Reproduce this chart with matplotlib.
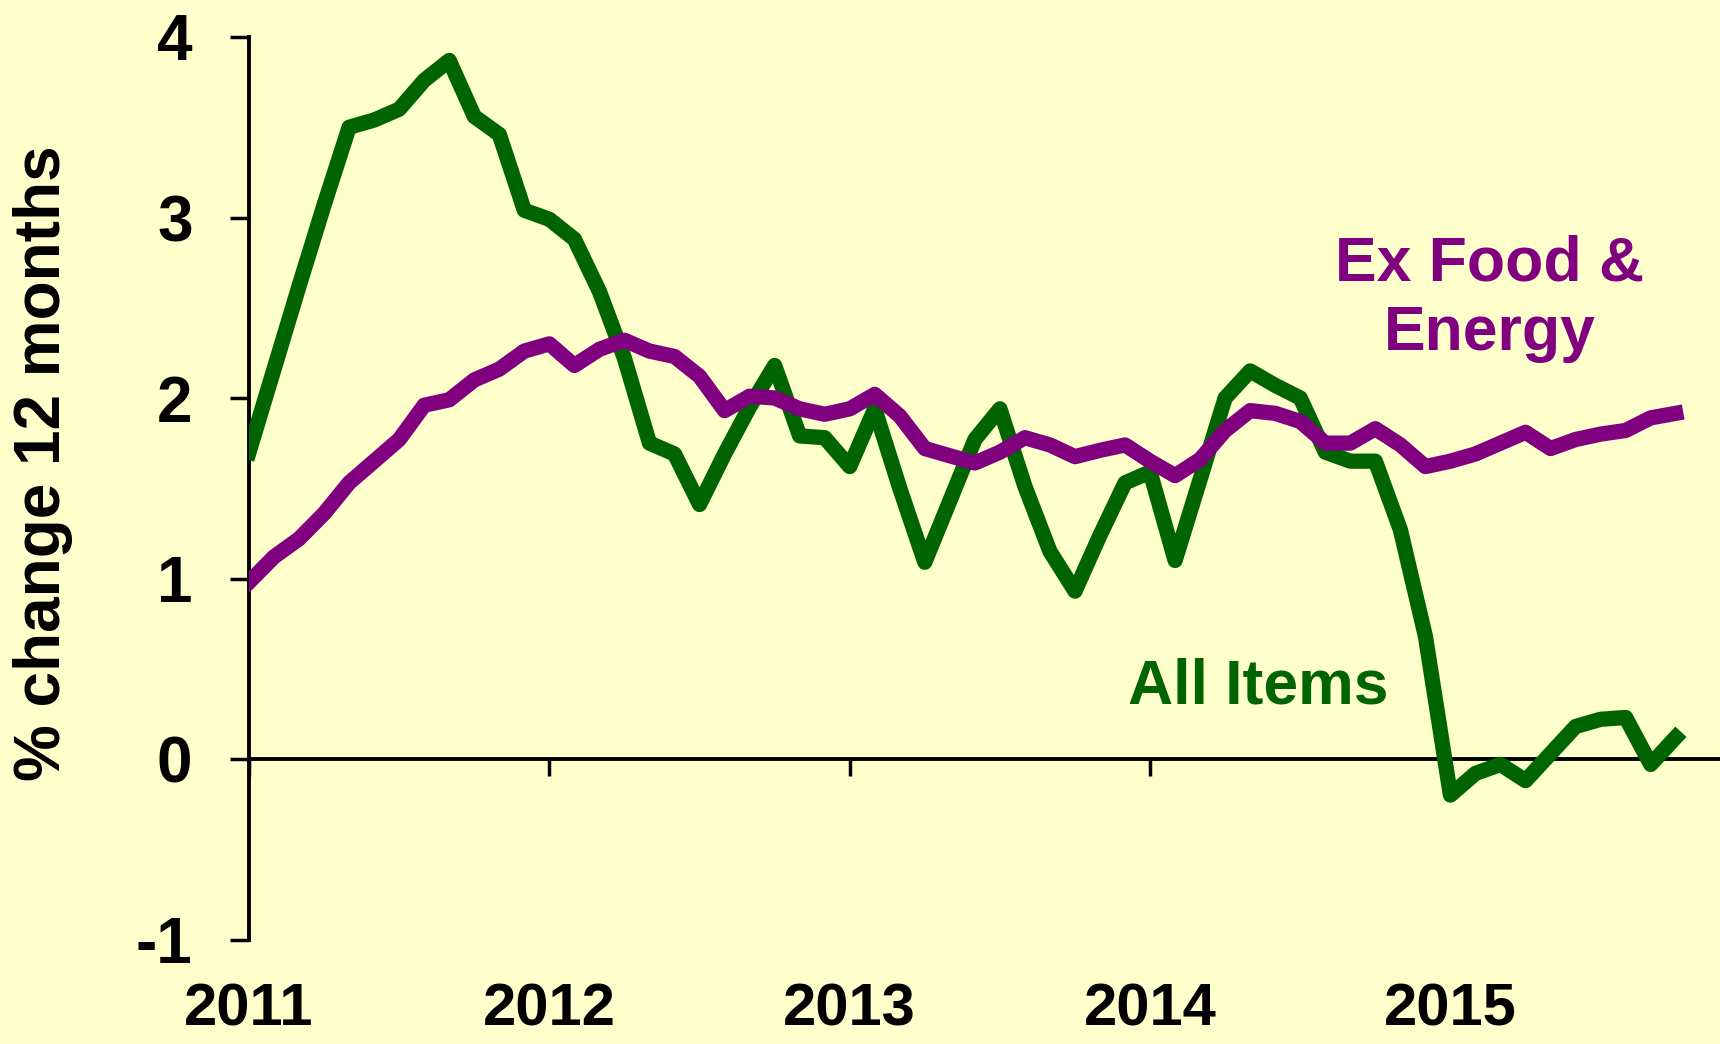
import numpy as np
import matplotlib.pyplot as plt

# 12-month % change, monthly Jan 2011 .. Oct 2015
years = ['2011', '2012', '2013', '2014', '2015']
all_items = [1.70, 2.16, 2.62, 3.07, 3.50, 3.54, 3.60, 3.76, 3.87, 3.56, 3.46, 3.04,
             2.99, 2.88, 2.59, 2.22, 1.75, 1.69, 1.41, 1.69, 1.95, 2.18, 1.79, 1.78,
             1.62, 1.94, 1.50, 1.09, 1.43, 1.77, 1.94, 1.51, 1.15, 0.93, 1.24, 1.53,
             1.59, 1.10, 1.55, 2.00, 2.15, 2.07, 2.00, 1.70, 1.65, 1.65, 1.27, 0.68,
             -0.20, -0.08, -0.03, -0.12, 0.03, 0.18, 0.22, 0.23, -0.03, 0.12]
ex_food_energy = [0.98, 1.12, 1.22, 1.36, 1.53, 1.65, 1.77, 1.96, 1.99, 2.10, 2.16, 2.26,
                  2.30, 2.18, 2.27, 2.32, 2.26, 2.23, 2.12, 1.93, 2.01, 2.00, 1.94, 1.91,
                  1.94, 2.02, 1.90, 1.72, 1.68, 1.64, 1.70, 1.78, 1.74, 1.675, 1.71, 1.74,
                  1.65, 1.57, 1.66, 1.82, 1.93, 1.915, 1.87, 1.75, 1.75, 1.83, 1.74, 1.62,
                  1.65, 1.69, 1.75, 1.81, 1.72, 1.77, 1.80, 1.82, 1.89, 1.915]
months = np.arange(len(all_items))

bg = '#FFFFCC'
green = '#006400'
purple = '#800080'

plt.rcParams['font.family'] = ['Liberation Sans', 'DejaVu Sans']
plt.rcParams['font.weight'] = 'bold'
plt.rcParams['axes.labelweight'] = 'bold'

fig = plt.figure(figsize=(17.2, 10.44), dpi=100, facecolor=bg)
ax = fig.add_axes([249/1720, 104.5/1044, 1 - 249/1720, 902.5/1044])
ax.set_facecolor(bg)

ax.plot(months, all_items, color=green, lw=11, solid_joinstyle='round', zorder=3)
ax.plot(months, ex_food_energy, color=purple, lw=11, solid_joinstyle='round', zorder=4)

ax.set_xlim(0, 1471/25.03)
ax.set_ylim(-1, 4)

for s in ['top', 'right']:
    ax.spines[s].set_visible(False)
ax.spines['left'].set_linewidth(2.8)
ax.spines['bottom'].set_position(('data', 0))
ax.spines['bottom'].set_linewidth(2.8)

ax.set_yticks([-1, 0, 1, 2, 3, 4])
ax.set_yticklabels(['-1', '0', '1', '2', '3', '4'])
ax.tick_params(axis='y', direction='out', length=13.7, width=2.5, pad=27, labelsize=46)

ax.set_xticks([0, 12, 24, 36, 48])
ax.set_xticklabels(years)
ax.tick_params(axis='x', direction='out', length=12, width=2.5, pad=149, labelsize=43)

ax.set_ylabel('% change 12 months', fontsize=46)
ax.yaxis.set_label_coords(-0.1196, 0.528)

ax.text(49.58, 2.55, 'Ex Food &\nEnergy', color=purple, fontsize=45,
        ha='center', va='center', linespacing=1.23)
ax.text(40.31, 0.31, 'All Items', color=green, fontsize=45, ha='center', va='baseline')

fig.savefig('out.png', dpi=100, facecolor=bg)
